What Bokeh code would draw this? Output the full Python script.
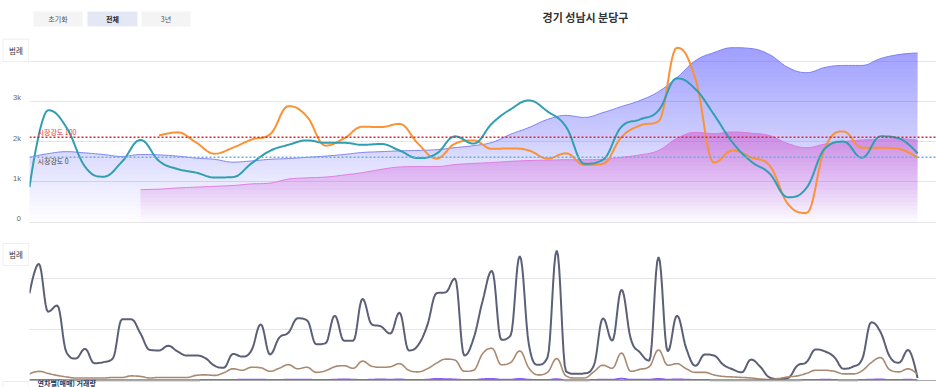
import numpy as np
from bokeh.plotting import figure
from bokeh.models import Range1d, FixedTicker, Span, Label, BoxAnnotation
from bokeh.layouts import column, row
from bokeh.embed import file_html
from bokeh.resources import INLINE
from bokeh.core.properties import value

KR = "Noto Sans CJK KR"

# ---------------- data ----------------
chart_title = "경기 성남시 분당구"
buttons = ["초기화", "전체", "3년"]
legend_text = "범례"
bottom_title = "연차별(매매) 거래량"

# upper chart: one value per period
period = list(range(49))
sale_price = [1610, 1700, 1750, 1720, 1680, 1630, 1680, 1670, 1640, 1590,
              1560, 1490, 1520, 1560, 1580, 1610, 1640, 1680, 1730, 1750,
              1770, 1780, 1800, 1850, 1900, 1980, 2180, 2350, 2550, 2650,
              2600, 2720, 2870, 3020, 3240, 3590, 4010, 4210, 4330, 4310,
              4160, 3840, 3710, 3840, 3890, 3890, 4060, 4160, 4200]
jeonse_price = [None, None, None, None, None, None, 810, 820, 850, 870,
                890, 910, 950, 970, 1070, 1100, 1120, 1170, 1230, 1310,
                1370, 1380, 1380, 1430, 1460, 1480, 1510, 1530, 1540, 1550,
                1550, 1560, 1610, 1670, 1780, 2080, 2230, 2200, 2240, 2210,
                2150, 1950, 1850, 1940, 2000, 2040, 2060, 2070, 2040]
strength_teal = [870, 2780, 2350, 1380, 1130, 1500, 2040, 1520, 1320, 1230,
                 1110, 1120, 1460, 1770, 1920, 2030, 1970, 1970, 1920, 1940,
                 1780, 1590, 1700, 2130, 1950, 2450, 2800, 3020, 2750, 2370,
                 1450, 1550, 2370, 2550, 2770, 3570, 3300, 2670, 1980, 1510,
                 1210, 620, 850, 1830, 2000, 1600, 2130, 2080, 1710]
strength_orange = [None, None, None, None, None, None, None, 2150, 2230, 1980,
                   1700, 1850, 2050, 2180, 2880, 2620, 1900, 2080, 2370, 2360,
                   2440, 1950, 1580, 1950, 2030, 1820, 1830, 1780, 1580, 1710,
                   1420, 1450, 2110, 2400, 2500, 4330, 3550, 1480, 1780, 1610,
                   1410, 450, 230, 1850, 2250, 1850, 1850, 1820, 1600]
level_100 = 2110
level_0 = 1610
level_100_text = "시장강도 100"
level_0_text = "시장강도 0"
top_ticks = [0, 1000, 2000, 3000]
top_tick_labels = ["0", "1k", "2k", "3k"]
top_grid = [0, 1000, 2000, 3000, 4000]

# lower chart: two values per period
half_period = [k * 0.5 for k in range(97)]
volume_total = [1710, 2290, 1350, 1470, 550, 430, 620, 340, 360, 430,
                1200, 1200, 920, 600, 590, 680, 570, 490, 490, 440,
                290, 250, 520, 470, 590, 1100, 510, 840, 940, 1220,
                1180, 710, 730, 1270, 780, 780, 1600, 1100, 1060, 920,
                1330, 590, 690, 1080, 1710, 1730, 2000, 490, 820, 1570,
                2150, 800, 880, 2440, 690, 310, 450, 2550, 180, 130,
                140, 290, 1220, 780, 1780, 820, 550, 390, 2420, 570,
                1270, 630, 290, 510, 490, 310, 220, 160, 410, 270,
                60, 30, 50, 290, 360, 610, 570, 460, 230, 270,
                410, 1140, 950, 470, 350, 600, 50]
volume_sub = [130, 180, 140, 100, 70, 50, 50, 50, 50, 60,
              60, 90, 80, 50, 60, 60, 60, 60, 100, 110,
              100, 150, 230, 200, 260, 250, 180, 240, 310, 230,
              260, 160, 190, 270, 290, 240, 380, 280, 260, 270,
              330, 200, 170, 230, 340, 420, 400, 180, 200, 530,
              630, 310, 350, 580, 240, 110, 160, 430, 90, 50,
              50, 170, 300, 240, 540, 180, 220, 270, 600, 300,
              330, 230, 160, 160, 110, 80, 70, 60, 50, 30,
              20, 40, 70, 90, 140, 200, 200, 180, 130, 130,
              190, 350, 450, 210, 170, 230, 120]
volume_new = [10, 10, 10, 10, 5, 5, 5, 5, 5, 5,
              5, 5, 5, 5, 5, 5, 5, 5, 5, 10,
              10, 10, 10, 15, 15, 15, 10, 10, 15, 15,
              15, 10, 10, 15, 20, 15, 10, 15, 20, 15,
              20, 10, 10, 15, 30, 25, 20, 10, 10, 25,
              30, 15, 15, 30, 15, 10, 10, 25, 5, 5,
              5, 10, 15, 15, 35, 15, 15, 15, 30, 15,
              20, 15, 10, 10, 5, 5, 5, 5, 5, 5,
              5, 5, 5, 5, 10, 10, 15, 10, 5, 5,
              10, 15, 20, 10, 10, 15, 5]
bottom_grid = [1000, 2000]

# ---------------- helpers ----------------
def tx(px):          # page pixel -> period units (decorations only)
    return (px - 29) / 18.5

def ty(py):          # page pixel -> upper chart value
    return (221.7 - py) / 40.3 * 1000

def by(py):          # page pixel -> lower chart value
    return (380 - py) / 51 * 1000


def spline(xs, ys, steps=12):
    """Draw path of a spline series through the data points (bezier, clamped)."""
    x = np.asarray(xs, float)
    y = np.asarray(ys, float)
    n = len(x)
    lcx, lcy, rcx, rcy = x.copy(), y.copy(), x.copy(), y.copy()
    for i in range(1, n - 1):
        lx, ly, nx_, ny_ = x[i - 1], y[i - 1], x[i + 1], y[i + 1]
        lcx[i] = (1.5 * x[i] + lx) / 2.5
        lcy[i] = (1.5 * y[i] + ly) / 2.5
        rcx[i] = (1.5 * x[i] + nx_) / 2.5
        rcy[i] = (1.5 * y[i] + ny_) / 2.5
        if rcx[i] != lcx[i]:
            corr = (rcy[i] - lcy[i]) * (rcx[i] - x[i]) / (rcx[i] - lcx[i]) + y[i] - rcy[i]
            lcy[i] += corr
            rcy[i] += corr
        if lcy[i] > ly and lcy[i] > y[i]:
            lcy[i] = max(ly, y[i]); rcy[i] = 2 * y[i] - lcy[i]
        elif lcy[i] < ly and lcy[i] < y[i]:
            lcy[i] = min(ly, y[i]); rcy[i] = 2 * y[i] - lcy[i]
        if rcy[i] > ny_ and rcy[i] > y[i]:
            rcy[i] = max(ny_, y[i]); lcy[i] = 2 * y[i] - rcy[i]
        elif rcy[i] < ny_ and rcy[i] < y[i]:
            rcy[i] = min(ny_, y[i]); lcy[i] = 2 * y[i] - rcy[i]
    t = np.linspace(0, 1, steps, endpoint=False)
    a, b, c, d = (1 - t) ** 3, 3 * (1 - t) ** 2 * t, 3 * (1 - t) * t ** 2, t ** 3
    ox, oy = [], []
    for i in range(n - 1):
        ox.append(a * x[i] + b * rcx[i] + c * lcx[i + 1] + d * x[i + 1])
        oy.append(a * y[i] + b * rcy[i] + c * lcy[i + 1] + d * y[i + 1])
    ox.append([x[-1]])
    oy.append([y[-1]])
    return np.concatenate(ox), np.concatenate(oy)


def defined(xs, ys):
    pairs = [(x, y) for x, y in zip(xs, ys) if y is not None]
    return [p[0] for p in pairs], [p[1] for p in pairs]


def gradient_area(p, xs, ys, color, vmax, alpha_max, step):
    n = int(np.ceil(vmax / step))
    prev = 0.0
    for k in range(n):
        lo = k * step
        target = alpha_max * (k + 1) / n
        a = 1 - (1 - target) / (1 - prev)
        prev = target
        p.varea(x=xs, y1=np.minimum(ys, lo), y2=ys, fill_color=color, fill_alpha=a)


def bare(width, height, xr, yr):
    f = figure(width=width, height=height, title=None, x_range=xr, y_range=yr,
               output_backend="svg", toolbar_location=None,
               x_axis_location=None, y_axis_location=None,
               min_border_left=0, min_border_right=0, min_border_top=0, min_border_bottom=0)
    f.outline_line_color = None
    f.background_fill_color = "white"
    f.border_fill_color = "white"
    f.xgrid.visible = False
    f.ygrid.visible = False
    return f


def legend_button(p, yf, y0, y1, label=True):
    p.add_layout(BoxAnnotation(left=tx(2.5), right=tx(28.3), top=yf(y0), bottom=yf(y1),
                               fill_color="white", fill_alpha=1,
                               line_color="#c8c8c8", line_width=1))
    if label:
        p.add_layout(Label(x=tx(15.5), y=yf((y0 + y1) / 2), text=legend_text,
                           text_align="center", text_baseline="middle", text_font=KR,
                           text_font_size="7.5px", text_color="#333333"))


SIDE = 29
MAIN = 936 - SIDE
TOP_H = 236
BOT_H = 151

# ---------------- upper chart ----------------
top_y = Range1d(ty(TOP_H), ty(0))
top = bare(MAIN, TOP_H, Range1d(0, tx(936)), top_y)
top.ygrid.visible = True
top.ygrid.ticker = FixedTicker(ticks=top_grid)
top.ygrid.grid_line_color = "#e6e6e6"

# blue area
bx, byv = spline(period, sale_price)
gradient_area(top, bx, byv, "#7b7bf3", 4400, 0.62, 100)
top.line(bx, byv, line_color="#7f7ff2", line_width=1)

# pink area
px_, py_ = defined(period, jeonse_price)
pxs, pys = spline(px_, py_)
gradient_area(top, pxs, pys, "#d66ed9", 2300, 0.62, 100)
top.line(pxs, pys, line_color="#e07be0", line_width=1)

# orange and teal lines
ox_, oy_ = defined(period, strength_orange)
oxs, oys = spline(ox_, oy_)
top.line(oxs, oys, line_color="#fb9236", line_width=2)
txs, tys = spline(period, strength_teal)
top.line(txs, tys, line_color="#2f9fb1", line_width=2)

top.add_layout(Span(location=level_100, dimension="width", line_color="#e8212b",
                    line_dash="2 2", line_width=1.5))
top.add_layout(Span(location=level_0, dimension="width", line_color="#5fb0ee",
                    line_dash="2 2", line_width=1.5))
top.add_layout(Label(x=tx(37), y=ty(131), text=level_100_text, text_align="left",
                     text_baseline="middle", text_font=KR, text_font_size="7px",
                     text_color="#f03030"))
top.add_layout(Label(x=tx(37), y=ty(160.5), text=level_0_text, text_align="left",
                     text_baseline="middle", text_font=KR, text_font_size="7px",
                     text_color="#444444"))

# buttons and title
btn_boxes = [(33, 82, "#f4f4f4"), (87, 137, "#e3e8f4"), (141, 190, "#f4f4f4")]
for (l, r, c), t in zip(btn_boxes, buttons):
    top.add_layout(BoxAnnotation(left=tx(l), right=tx(r), top=ty(11), bottom=ty(26),
                                 fill_color=c, fill_alpha=1, line_color=None))
    top.add_layout(Label(x=tx((l + r) / 2), y=ty(18.5), text=t, text_align="center",
                         text_baseline="middle", text_font=KR, text_font_size="7px",
                         text_color="#222222" if t == "전체" else "#555555",
                         text_font_style="bold" if t == "전체" else "normal"))
top.add_layout(Label(x=tx(585), y=ty(16), text=chart_title, text_align="center",
                     text_baseline="middle", text_font=KR, text_font_size="11px",
                     text_font_style="bold", text_color="#333333"))

# left strip of the upper chart: legend button and value labels
top_side = bare(SIDE, TOP_H, Range1d(tx(0), tx(SIDE)), top_y)
legend_button(top_side, ty, 38.7, 61)
top_side.text(x=[tx(20.5)] * len(top_ticks), y=top_ticks, text=top_tick_labels,
              y_offset=-3.5, text_align="right", text_baseline="middle",
              text_font=value("Liberation Sans"), text_font_size="7.5px",
              text_color="#666666")

# ---------------- lower chart ----------------
bot_y = Range1d(by(387), by(236))
bot = bare(MAIN, BOT_H, top.x_range, bot_y)
bot.ygrid.visible = True
bot.ygrid.ticker = FixedTicker(ticks=bottom_grid)
bot.ygrid.grid_line_color = "#e6e6e6"
bot.add_layout(Span(location=0, dimension="width", line_color="#a8a8a8", line_width=1))

gx, gy = spline(half_period, volume_total, steps=8)
bot.line(gx, gy, line_color="#5b6077", line_width=2)
sx, sy = spline(half_period, volume_sub, steps=8)
bot.line(sx, sy, line_color="#a98a71", line_width=1.6)
nx, ny = spline(half_period, volume_new, steps=8)
bot.line(nx, ny, line_color="#8c5ff2", line_width=2)

bot.add_layout(Label(x=tx(37), y=by(387), text=bottom_title, text_align="left",
                     text_baseline="bottom", text_font=KR, text_font_size="7px",
                     text_font_style="bold", text_color="#263b68"))

bot_side = bare(SIDE, BOT_H, Range1d(tx(0), tx(SIDE)), bot_y)
legend_button(bot_side, by, 243, 265)
legend_button(bot_side, by, 381, 392, label=False)

layout = column(row(top_side, top, spacing=0), row(bot_side, bot, spacing=0), spacing=0)
open("out.html", "w", encoding="utf-8").write(file_html(layout, INLINE, title="chart"))
